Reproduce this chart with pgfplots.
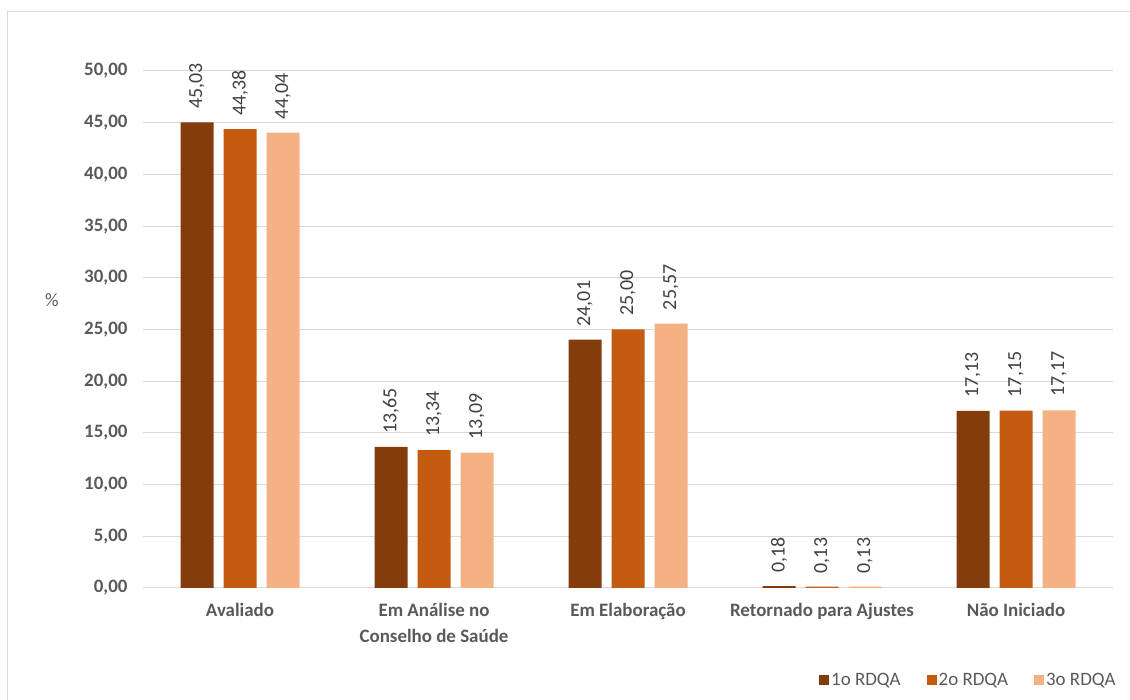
\documentclass[border=0pt]{standalone}
\usepackage{pgfplots}
\pgfplotsset{compat=1.18}
\usepackage{fontspec}
\setmainfont{Carlito}
\definecolor{c1}{HTML}{843C0C}
\definecolor{c2}{HTML}{C55A11}
\definecolor{c3}{HTML}{F4B183}
\definecolor{txt}{HTML}{595959}
\definecolor{lbl}{HTML}{404040}
\definecolor{grid}{HTML}{D9D9D9}
\begin{document}
\begin{tikzpicture}[x=1bp,y=1bp]
\useasboundingbox (0,0) rectangle (1130,700);
\draw[grid,line width=1bp] (7.5,-5) -- (7.5,688) -- (1140,688);
\begin{axis}[
  scale only axis,
  width=970bp, height=517bp,
  at={(143bp,112bp)}, anchor=south west,
  ybar=10bp, bar width=33bp,
  xmin=-0.5, xmax=4.5, ymin=0, ymax=50,
  ytick={0,5,...,50},
  xtick={0,1,2,3,4},
  xticklabels={Avaliado,{Em Análise no\\Conselho de Saúde},Em Elaboração,Retornado para Ajustes,Não Iniciado},
  xticklabel style={align=center, font=\fontsize{19}{26}\selectfont\bfseries, text=txt, yshift=-12bp},
  yticklabel style={font=\fontsize{19}{22}\selectfont\bfseries, text=txt, xshift=-12bp},
  /pgf/number format/.cd, use comma, fixed, fixed zerofill, precision=2, 1000 sep={}, assume math mode=true,
  /pgfplots/.cd,
  axis x line*=bottom, axis y line*=left,
  y axis line style={draw=none},
  x axis line style={draw=grid, line width=1bp},
  major tick length=0pt,
  ymajorgrids, grid style={draw=grid, line width=1bp},
  nodes near coords,
  every node near coord/.append style={rotate=90, anchor=west, font=\fontsize{20}{22}\selectfont, text=lbl, xshift=10bp,
    /pgf/number format/.cd, use comma, fixed, fixed zerofill, precision=2, assume math mode=true},
  legend style={at={(1.008,-0.178)}, anchor=east, draw=none, fill=none, legend columns=3,
    font=\fontsize{19}{22}\selectfont, text=txt,
    /tikz/every even column/.append style={column sep=24bp}},
  legend image code/.code={\fill[#1] (0bp,-5bp) rectangle (10bp,5bp);},
]
\addplot[fill=c1, draw=none] coordinates {(0,45.03) (1,13.65) (2,24.01) (3,0.18) (4,17.13)};
\addplot[fill=c2, draw=none] coordinates {(0,44.38) (1,13.34) (2,25.00) (3,0.13) (4,17.15)};
\addplot[fill=c3, draw=none] coordinates {(0,44.04) (1,13.09) (2,25.57) (3,0.13) (4,17.17)};
\legend{1o RDQA,2o RDQA,3o RDQA}
\end{axis}
\node[font=\fontsize{19}{22}\selectfont, text=txt] at (52,400) {\%};
\end{tikzpicture}
\end{document}
